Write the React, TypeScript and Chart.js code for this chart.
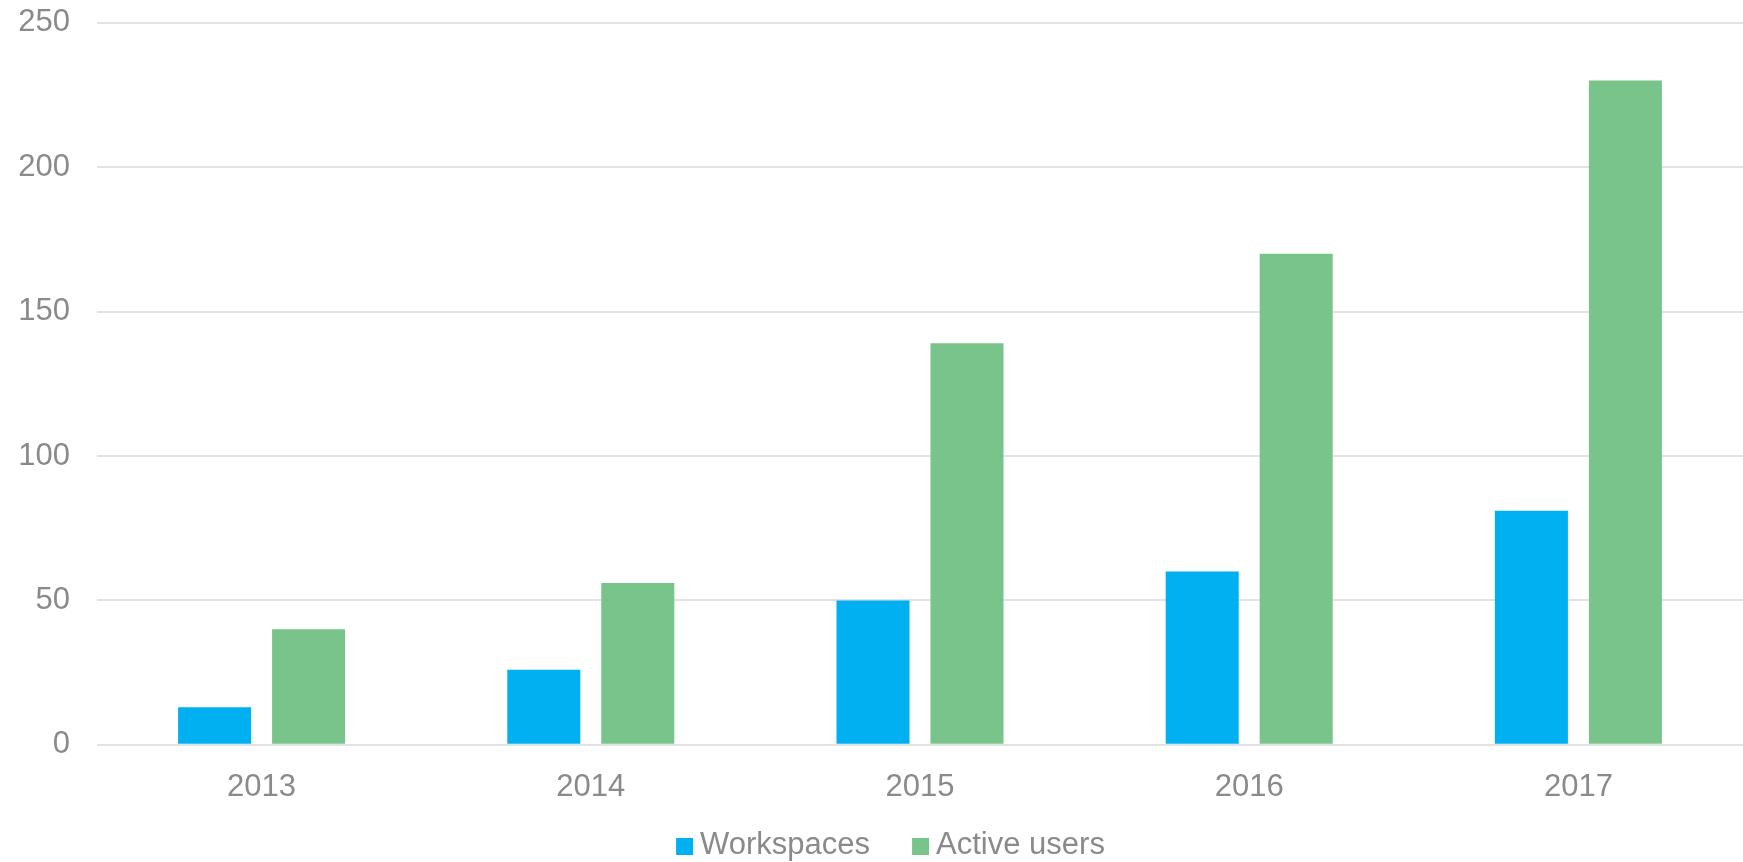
import React, { useEffect, useRef } from "react";
import { Chart, registerables } from "chart.js";

Chart.register(...registerables);

const categories = ["2013", "2014", "2015", "2016", "2017"];
const workspaces = [13, 26, 50, 60, 81];
const activeUsers = [40, 56, 139, 170, 230];
const yTicks = [0, 50, 100, 150, 200, 250];
const seriesColors = ["#00B0F0", "#78C48B"];

const FONT = "Liberation Sans, Arial, sans-serif";
const TEXT_COLOR = "#8A8A8A";

const legendPlugin = {
  id: "customLegend",
  afterDraw(chart: any) {
    const ctx = chart.ctx as CanvasRenderingContext2D;
    ctx.save();
    ctx.font = `31px ${FONT}`;
    const box = 17;
    const gap = 7;
    const spacing = 42;
    const items = chart.data.datasets.map((ds: any) => ({
      label: ds.label as string,
      color: ds.backgroundColor as string,
      w: ctx.measureText(ds.label).width,
    }));
    const total =
      items.reduce((s: number, it: any) => s + box + gap + it.w, 0) +
      spacing * (items.length - 1);
    let x = chart.width / 2 - total / 2 + 19;
    const y = chart.height - 16;
    ctx.textBaseline = "middle";
    ctx.textAlign = "left";
    for (const it of items) {
      ctx.fillStyle = it.color;
      ctx.fillRect(x, y - box / 2 + 0.5, box, box);
      x += box + gap;
      ctx.fillStyle = TEXT_COLOR;
      ctx.fillText(it.label, x, y - 1);
      x += it.w + spacing;
    }
    ctx.restore();
  },
};

export default function App() {
  const ref = useRef<HTMLCanvasElement | null>(null);
  useEffect(() => {
    document.body.style.margin = "0";
    const ctx = ref.current!;
    const chart = new Chart(ctx, {
      type: "bar",
      data: {
        labels: categories,
        datasets: [
          {
            label: "Workspaces",
            data: workspaces,
            backgroundColor: seriesColors[0],
            categoryPercentage: 0.571,
            barPercentage: 0.777,
          },
          {
            label: "Active users",
            data: activeUsers,
            backgroundColor: seriesColors[1],
            categoryPercentage: 0.571,
            barPercentage: 0.777,
          },
        ],
      },
      plugins: [legendPlugin],
      options: {
        animation: false,
        responsive: true,
        maintainAspectRatio: false,
        layout: { padding: { left: 13, right: 0, top: 0, bottom: 32 } },
        plugins: {
          tooltip: { enabled: false },
          legend: { display: false },
        },
        scales: {
          x: {
            grid: { display: false, drawTicks: false },
            border: { display: false },
            ticks: {
              font: { family: FONT, size: 31 },
              color: TEXT_COLOR,
              padding: 24,
            },
          },
          y: {
            min: 0,
            max: 250,
            afterBuildTicks: (axis: any) => {
              axis.ticks = yTicks.map((v) => ({ value: v }));
            },
            afterFit: (axis: any) => {
              axis.width = 84;
              axis.paddingTop = 22.7;
              axis.paddingBottom = 0;
            },
            grid: { color: "#E2E2E2", lineWidth: 2, drawTicks: false },
            border: { display: false },
            ticks: {
              font: { family: FONT, size: 31 },
              color: TEXT_COLOR,
              padding: 27,
            },
          },
        },
      },
    });
    return () => chart.destroy();
  }, []);
  return (
    <div style={{ position: "fixed", left: 0, top: 0, width: 1743, height: 862 }}>
      <canvas ref={ref} />
    </div>
  );
}
